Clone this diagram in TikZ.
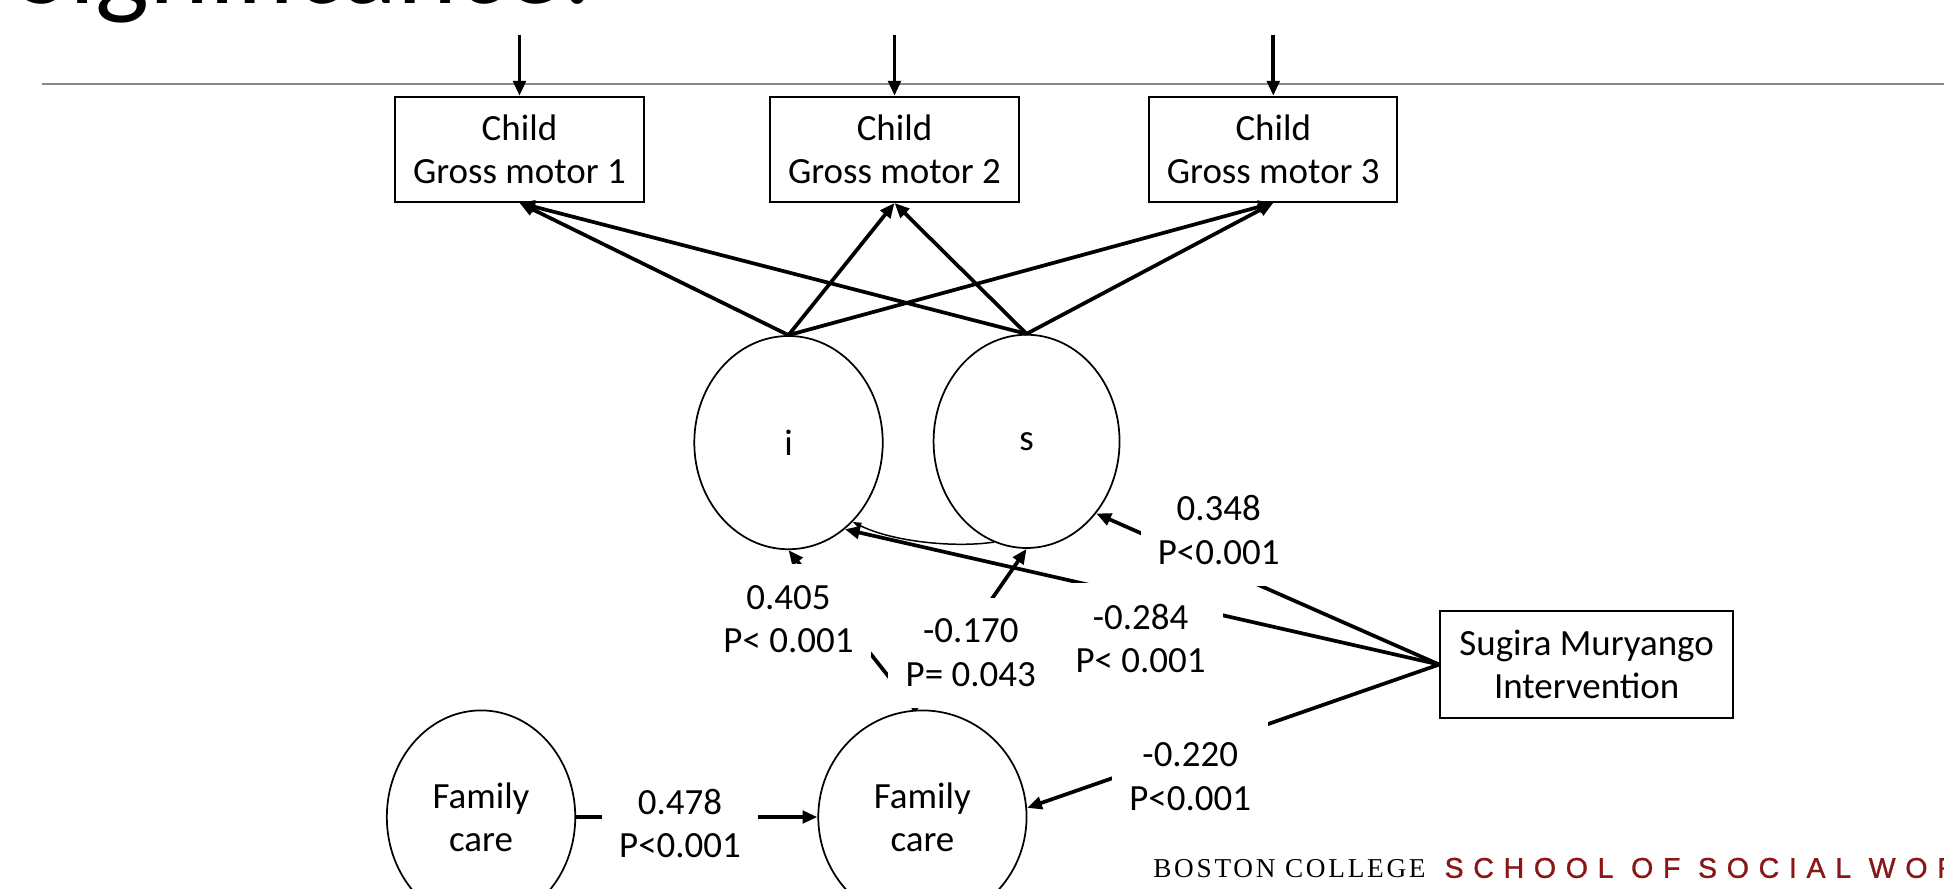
\documentclass[tikz,border=0pt]{standalone}
\usepackage{fontspec}
\setmainfont{Carlito}
\newfontfamily\bcserif[LetterSpace=10]{Liberation Serif}
\newfontfamily\bcsans[LetterSpace=34,FakeBold=1]{Liberation Sans}
\usetikzlibrary{shapes.geometric,arrows.meta}
\definecolor{bcred}{RGB}{138,22,22}
\definecolor{rulegray}{RGB}{137,137,137}
\begin{document}
\begin{tikzpicture}[x=1pt,y=-1pt,
  lbl/.style={font=\fontsize{29.8}{35}\selectfont, align=center, fill=white, inner xsep=14pt, inner ysep=17pt},
  boxnode/.style={draw, line width=1.4pt, rectangle, align=center, inner sep=0pt, font=\fontsize{29.8}{35}\selectfont},
  latent/.style={draw, line width=1.4pt, ellipse, inner sep=0pt, align=center, font=\fontsize{29.8}{35}\selectfont},
  conn/.style={line width=3pt, -{Triangle[length=12pt,width=10pt]}},
]
\useasboundingbox (0,0) rectangle (1568,717);
\clip (0,0) rectangle (1568,717);

% title (cut off at the top)
\node[anchor=base west, inner sep=0pt, font=\fontsize{92}{100}\selectfont] (title) at (13.5,2.5) {Significance:};

% rule
\coordinate (ruleL) at (34,67.8);
\coordinate (ruleR) at (1568,67.8);
\draw[rulegray, line width=1.5pt] (ruleL) -- (ruleR);

% observed indicators
\node[boxnode, minimum width=201pt, minimum height=85pt] (gm1) at (419,120.5) {Child\\Gross motor 1};
\node[boxnode, minimum width=201pt, minimum height=85pt] (gm2) at (721.5,120.5) {Child\\Gross motor 2};
\node[boxnode, minimum width=200pt, minimum height=85pt] (gm3) at (1027,120.5) {Child\\Gross motor 3};

% latent growth factors
\node[latent, minimum width=152pt, minimum height=172pt] (i) at (636,357) {i};
\node[latent, minimum width=150pt, minimum height=172pt] (s) at (828,356) {s};

% family care
\node[latent, minimum width=152pt, minimum height=172pt] (fcl) at (388,659) {Family\\care};
\node[latent, minimum width=168pt, minimum height=172pt] (fcr) at (744,659) {Family\\care};

% intervention
\node[boxnode, minimum width=236.5pt, minimum height=86pt] (sug) at (1279.75,536) {Sugira Muryango\\Intervention};

% top arrows
\coordinate (t1) at (gm1.north |- 0,28);
\coordinate (t2) at (gm2.north |- 0,28);
\coordinate (t3) at (gm3.north |- 0,28);
\draw[conn] (t1) -- (gm1.north);
\draw[conn] (t2) -- (gm2.north);
\draw[conn] (t3) -- (gm3.north);

% loadings
\foreach \b in {gm1,gm2,gm3} {
  \draw[conn] (i.north) -- (\b.south);
  \draw[conn] (s.north) -- (\b.south);
}

% covariance i-s
\draw[line width=1.2pt, -{Triangle[length=7pt,width=5pt]}] (s.-108) .. controls (770,442) and (720,437) .. (i.-51);

% structural paths
\draw[conn] (sug.west) -- (i.-57.5);
\draw[conn] (sug.west) -- (s.-46);
\draw[conn] (sug.west) -- (fcr.5);
\draw[conn] (fcr.94) -- (i.south);
\draw[conn] (fcr.94) -- (s.south);
\draw[conn] (fcl.east) -- (fcr.west);

% coefficient labels
\node[lbl] (l348) at (983,427.5) {0.348\\P<0.001};
\node[lbl] (l284) at (920,515) {-0.284\\P< 0.001};
\node[lbl] (l220) at (960,626.5) {-0.220\\P<0.001};
\node[lbl] (l170) at (783,526.5) {-0.170\\P= 0.043};
\node[lbl] (l405) at (636,499.5) {0.405\\P< 0.001};
\node[lbl] (l478) at (548.5,664) {0.478\\P<0.001};

% footer logo text
\node[anchor=base west, inner sep=0pt, font=\bcserif\fontsize{22}{24}\selectfont] (bc) at (930,708) {BOSTON COLLEGE};
\node[anchor=base west, inner sep=0pt, text=bcred, font=\bcsans\fontsize{23}{25}\selectfont] (ssw) at (1165,708) {SCHOOL OF SOCIAL WORK};
\end{tikzpicture}
\end{document}
